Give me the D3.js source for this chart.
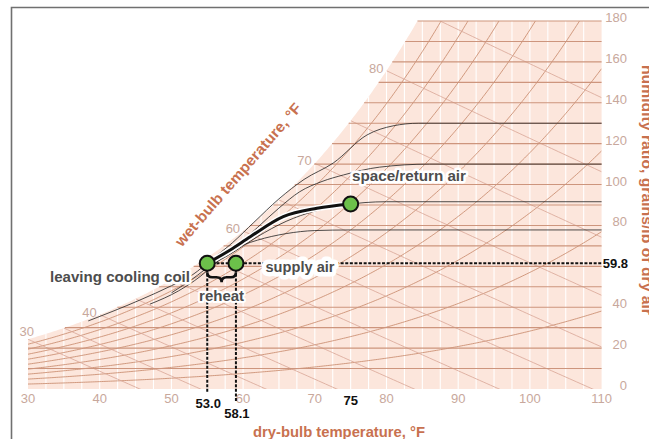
<!DOCTYPE html>
<html>
<head>
<meta charset="utf-8">
<script src="https://cdn.jsdelivr.net/npm/d3@7"></script>
<style>
  body { margin: 0; background: #fff; }
  svg { display: block; font-family: "Liberation Sans", Arial, sans-serif; }
  .halo { paint-order: stroke; stroke: #fff; stroke-linejoin: round; }
</style>
</head>
<body>
<svg id="chart" width="649" height="439"></svg>
<script>
// ---- data ----
const dryBulbTicks = [30, 40, 50, 60, 70, 80, 90, 100, 110];
const grainTicks = [0, 20, 40, 80, 100, 120, 140, 160, 180];
const grainGrid = [10, 20, 30, 40, 50, 60, 70, 80, 90, 100, 110, 120, 130, 140, 150, 160, 170, 180];
const dryBulbGrid = [32.5, 35, 37.5, 40, 42.5, 45, 47.5, 50, 52.5, 55, 57.5, 60, 62.5, 65, 67.5, 70, 72.5, 75,
                     77.5, 80, 82.5, 85, 87.5, 90, 92.5, 95, 97.5, 100, 102.5, 105, 107.5];
const rhLevels = [0.1, 0.2, 0.3, 0.4, 0.5, 0.6, 0.7, 0.8, 0.9];
const wetBulbLevels = [30, 35, 40, 45, 50, 55, 60, 65, 70, 75, 80, 85];
const wetBulbLabels = [30, 40, 60, 70, 80];

// states as drawn: dry-bulb, grains/lb, printed value
const stateNames = ["leaving cooling coil", "supply air", "space/return air"];
const stateDryBulb = [55.0, 59.0, 75.0];
const stateGrains = [61.5, 61.5, 90.5];
const stateValueLabels = ["53.0", "58.1", "75"];
const supplyGrainLabel = "59.8";

// thick coil process curve (leaving coil -> space)
const processCurve = [[55, 61.5], [58.2, 68], [61, 74.5], [65.6, 84.3], [70.3, 88.4], [75, 90.5]];

// thin black coil lines
const coilLineA = [[38.4, 33.3], [45.6, 43.5], [50, 50.5], [53, 56], [55.5, 63], [58.5, 71.5], [61.5, 81.5], [65, 93], [68.5, 102.5],
                   [72.6, 110.6], [77.3, 124.3], [80.9, 128.7], [84.5, 130], [110, 130]];
const coilLineB = [[47, 41.5], [51, 48], [54, 55], [56.5, 62.5], [59, 69.5], [62, 79], [65, 88.5], [67.9, 96.5], [71, 101.5],
                   [74, 104.7], [79, 108.5], [86, 110], [110, 110]];
const coilLineC = [[50, 47], [53, 54], [55.5, 60.5], [58, 65.5], [62, 74.5], [66, 82], [70, 87], [73.5, 89.5], [77, 91.2], [80, 91.6], [110, 91.6]];
const coilLineD = [[55, 61], [58, 67.5], [62, 72.8], [66, 76], [70, 77.5], [75, 77.8], [110, 77.8]];
const coilLines = [coilLineA, coilLineB, coilLineC, coilLineD];

// ---- colours ----
const shade = "#fce6dc";
const gridBrown = "#cd957d";
const rhBrown = "#c98b6e";
const wbBrown = "#daa99a";
const tickGrey = "#c8a89c";
const titleBrown = "#c8714f";
const labelGrey = "#4d4d4d";

// ---- psychrometrics (sea level) ----
const P = 14.696;
function pws(tF) {
  const T = tF + 459.67;
  return Math.exp(-1.0440397e4 / T - 11.29465 - 2.7022355e-2 * T + 1.289036e-5 * T * T
    - 2.4780681e-9 * T * T * T + 6.5459673 * Math.log(T));
}
function grainsRH(tF, rh) { const p = rh * pws(tF); return 7000 * 0.621945 * p / (P - p); }
function grainsSat(tF) { return grainsRH(tF, 1); }
function grainsWB(tF, twb) {
  const ws = grainsSat(twb) / 7000;
  return 7000 * ((1093 - 0.556 * twb) * ws - 0.240 * (tF - twb)) / (1093 + 0.444 * tF - twb);
}
function dewPoint(gr) {
  let lo = 0, hi = 120;
  for (let i = 0; i < 40; i++) { const m = (lo + hi) / 2; if (grainsSat(m) < gr) lo = m; else hi = m; }
  return lo;
}

const svg = d3.select("#chart");

const x = d3.scaleLinear().domain([30, 110]).range([28, 601.6]);
const y = d3.scaleLinear().domain([0, 180]).range([389, 21]);
const line = d3.line().x(d => x(d[0])).y(d => y(d[1]));
const smooth = d3.line().x(d => x(d[0])).y(d => y(d[1])).curve(d3.curveMonotoneX);

// frame
svg.append("path").attr("d", "M11.5,439 V7.5 H649").attr("fill", "none")
  .attr("stroke", "#707070").attr("stroke-width", 1.6);

// chart region: under saturation curve, capped at 180 grains
const steps = d3.range(30, 110.01, 0.25);
const region = steps.map(t => [t, Math.min(grainsSat(t), 180)]);
region.push([110, 0], [30, 0]);

svg.append("clipPath").attr("id", "clipChart")
  .append("path").attr("d", line(region) + "Z");

svg.append("path").attr("d", line(region) + "Z").attr("fill", shade);

const g = svg.append("g").attr("clip-path", "url(#clipChart)");

// white dry-bulb verticals
g.selectAll(".vgrid").data(dryBulbGrid).join("line")
  .attr("x1", d => x(d)).attr("x2", d => x(d))
  .attr("y1", y(0)).attr("y2", y(180))
  .attr("stroke", "#fff").attr("stroke-width", 1.1);

// relative humidity curves
rhLevels.forEach(rh => {
  const pts = steps.map(t => [t, grainsRH(t, rh)]).filter(d => d[1] <= 183);
  g.append("path").attr("d", line(pts)).attr("fill", "none")
    .attr("stroke", rhBrown).attr("stroke-width", 0.85);
});

// wet-bulb lines
wetBulbLevels.forEach(twb => {
  const pts = d3.range(twb, 110.01, 0.5).map(t => [t, grainsWB(t, twb)]).filter(d => d[1] >= -1);
  g.append("path").attr("d", line(pts)).attr("fill", "none")
    .attr("stroke", wbBrown).attr("stroke-width", 0.85);
});

// humidity ratio lines
svg.selectAll(".hgrid").data(grainGrid).join("line")
  .attr("x1", d => x(Math.max(30, dewPoint(d)))).attr("x2", x(110))
  .attr("y1", d => y(d)).attr("y2", d => y(d))
  .attr("stroke", gridBrown).attr("stroke-width", 1.1);

// thin black coil lines
coilLines.forEach(c => {
  svg.append("path").attr("d", smooth(c)).attr("fill", "none")
    .attr("stroke", "#222").attr("stroke-width", 0.8);
});

// axis labels
svg.selectAll(".xt").data(dryBulbTicks).join("text")
  .attr("x", d => x(d)).attr("y", 403)
  .attr("text-anchor", "middle").attr("font-size", 13).attr("fill", tickGrey)
  .text(d => d);

svg.selectAll(".yt").data(grainTicks).join("text")
  .attr("x", 627).attr("y", d => y(d) + 1)
  .attr("text-anchor", "end").attr("font-size", 13).attr("fill", tickGrey)
  .text(d => d);

svg.selectAll(".wbt").data(wetBulbLabels).join("text")
  .attr("x", d => Math.max(x(d) - 3, 34)).attr("y", d => y(grainsSat(d)) + (d === 30 ? -3 : 2))
  .attr("text-anchor", "end").attr("font-size", 13).attr("fill", tickGrey)
  .text(d => d);

// axis titles
svg.append("text").attr("x", 339).attr("y", 437)
  .attr("text-anchor", "middle").attr("font-size", 15).attr("font-weight", "bold")
  .attr("fill", titleBrown).attr("textLength", 172).attr("lengthAdjust", "spacingAndGlyphs")
  .text("dry-bulb temperature, °F");

svg.append("text").attr("transform", "translate(242,178) rotate(-49)")
  .attr("text-anchor", "middle").attr("font-size", 15).attr("font-weight", "bold")
  .attr("fill", titleBrown).attr("textLength", 184).attr("lengthAdjust", "spacingAndGlyphs")
  .text("wet-bulb temperature, °F");

svg.append("text").attr("transform", "translate(642,190) rotate(90)")
  .attr("text-anchor", "middle").attr("font-size", 15).attr("font-weight", "bold")
  .attr("fill", titleBrown).attr("textLength", 250).attr("lengthAdjust", "spacingAndGlyphs")
  .text("humidity ratio, grains/lb of dry air");

// supply air dashed line
svg.append("line")
  .attr("x1", x(stateDryBulb[0])).attr("x2", x(110))
  .attr("y1", y(stateGrains[1])).attr("y2", y(stateGrains[1]))
  .attr("stroke", "#111").attr("stroke-width", 2).attr("stroke-dasharray", "3,1.6");

svg.append("text").attr("x", 628).attr("y", y(stateGrains[1]) + 5)
  .attr("text-anchor", "end").attr("font-size", 13).attr("font-weight", "bold").attr("fill", "#111")
  .text(supplyGrainLabel);

// dashed drops to the dry-bulb axis
const dropEnds = [392, 402, null];
stateDryBulb.forEach((t, i) => {
  if (dropEnds[i] === null) return;
  svg.append("line")
    .attr("x1", x(t)).attr("x2", x(t))
    .attr("y1", y(stateGrains[i]) + 6).attr("y2", dropEnds[i])
    .attr("stroke", "#111").attr("stroke-width", 2).attr("stroke-dasharray", "3,1.6");
});

svg.selectAll(".sv").data(stateDryBulb).join("text")
  .attr("x", d => x(d) + (d === stateDryBulb[2] ? 0 : 1))
  .attr("y", (d, i) => [408, 418, 405][i])
  .attr("text-anchor", "middle").attr("font-size", 13).attr("font-weight", "bold").attr("fill", "#111")
  .text((d, i) => stateValueLabels[i]);

// state labels
const labelPos = [[120, 282, 140, 5], [300, 272, 69, 9], [409, 181, 114, 5]];
stateNames.forEach((n, i) => {
  svg.append("text").attr("class", "halo")
    .attr("x", labelPos[i][0]).attr("y", labelPos[i][1])
    .attr("text-anchor", "middle").attr("font-size", 14.5).attr("font-weight", "bold")
    .attr("fill", labelGrey).attr("textLength", labelPos[i][2]).attr("lengthAdjust", "spacingAndGlyphs")
    .attr("stroke-width", labelPos[i][3])
    .text(n);
});

// reheat brace
const xa = x(stateDryBulb[0]), xb = x(stateDryBulb[1]), xm = (xa + xb) / 2, by = y(stateGrains[0]) + 9;
svg.append("path")
  .attr("d", `M${xa},${by} Q${xa},${by + 5} ${xa + 5},${by + 5} L${xm - 5},${by + 5} Q${xm},${by + 5} ${xm},${by + 10}
              Q${xm},${by + 5} ${xm + 5},${by + 5} L${xb - 5},${by + 5} Q${xb},${by + 5} ${xb},${by}`)
  .attr("fill", "none").attr("stroke", "#111").attr("stroke-width", 2.6);

svg.append("text").attr("class", "halo").attr("x", xm).attr("y", 301)
  .attr("text-anchor", "middle").attr("font-size", 14.5).attr("font-weight", "bold")
  .attr("fill", labelGrey).attr("textLength", 45).attr("lengthAdjust", "spacingAndGlyphs")
  .attr("stroke-width", 4)
  .text("reheat");

// thick process curve
svg.append("path").attr("d", smooth(processCurve)).attr("fill", "none")
  .attr("stroke", "#fff").attr("stroke-width", 6);
svg.append("path").attr("d", smooth(processCurve)).attr("fill", "none")
  .attr("stroke", "#111").attr("stroke-width", 3);

// state points
svg.selectAll(".pt").data(stateDryBulb).join("circle")
  .attr("cx", d => x(d)).attr("cy", (d, i) => y(stateGrains[i]))
  .attr("r", 7.5).attr("fill", "#6cc04a").attr("stroke", "#111").attr("stroke-width", 2);
</script>
</body>
</html>
